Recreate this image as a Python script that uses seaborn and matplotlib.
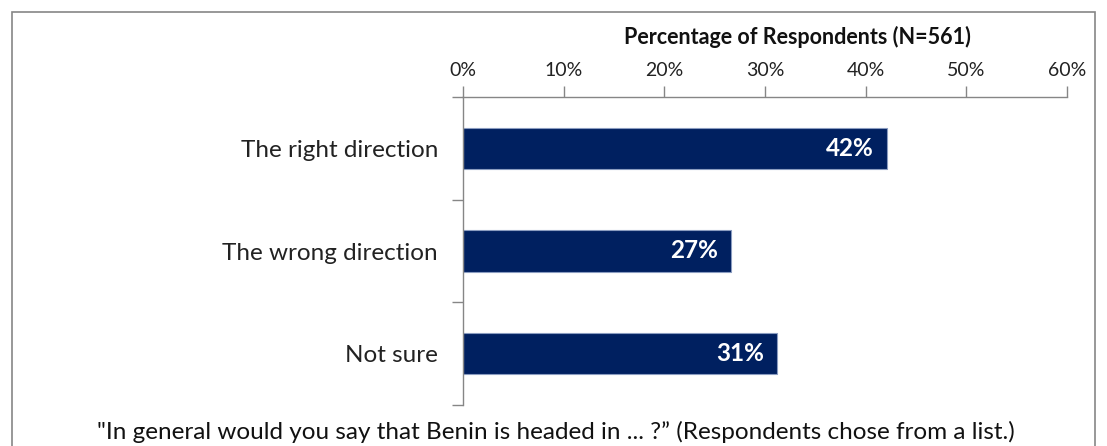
import matplotlib
matplotlib.use("Agg")
import matplotlib.pyplot as plt
import seaborn as sns
import pandas as pd
from matplotlib.patches import Rectangle

categories = ["The right direction", "The wrong direction", "Not sure"]
values = [42.1, 26.6, 31.2]
value_labels = ["42%", "27%", "31%"]
x_ticks = [0, 10, 20, 30, 40, 50, 60]
x_tick_labels = ["0%", "10%", "20%", "30%", "40%", "50%", "60%"]
axis_title = "Percentage of Respondents (N=561)"
caption = "\"In general would you say that Benin is headed in ... ?\u201d (Respondents chose from a list.)"

sns.set_style("white")
plt.rcParams["font.family"] = ["Lato", "DejaVu Sans"]

df = pd.DataFrame({"Answer": categories, "Percent": values})

fig = plt.figure(figsize=(11.07, 4.46), dpi=100)
ax = fig.add_axes([463 / 1107, 1 - 405 / 446, 604 / 1107, 308 / 446])

sns.barplot(data=df, y="Answer", x="Percent", orient="h", color="#002060",
            width=0.4, edgecolor="#8a9cc0", linewidth=0.8, saturation=1, ax=ax)

ax.set_xlim(0, 60)
ax.set_ylim(2.5, -0.5)
ax.xaxis.tick_top()
ax.set_xticks(x_ticks, labels=x_tick_labels)
ax.set_yticks([-0.5, 0.5, 1.5, 2.5], labels=[])
ax.set_yticks(range(len(categories)), labels=categories, minor=True)
ax.tick_params(axis="x", which="major", direction="out", length=8, width=1,
               color="#868686", labelsize=14, labelcolor="#222222", pad=5, top=True, bottom=False)
ax.tick_params(axis="y", which="major", direction="out", length=8, width=1,
               color="#868686", left=True)
ax.tick_params(axis="y", which="minor", length=0, labelsize=17.5, labelcolor="#222222", pad=18)
ax.set_xlabel("")
ax.set_ylabel("")

for side in ["right", "bottom"]:
    ax.spines[side].set_visible(False)
for side in ["top", "left"]:
    ax.spines[side].set_color("#868686")
    ax.spines[side].set_linewidth(1)

for i, (v, lab) in enumerate(zip(values, value_labels)):
    ax.text(v - 1.3, i, lab, ha="right", va="center", color="white",
            fontsize=17.5, fontweight="bold")

fig.text(797 / 1107, 1 - 37 / 446, axis_title, ha="center", va="center",
         fontsize=15.5, fontweight="bold", color="#111111")
fig.text(556 / 1107, 1 - 432 / 446, caption, ha="center", va="center",
         fontsize=17.5, color="#111111")

fig.patches.append(Rectangle((12 / 1107, -0.1), (1095 - 12) / 1107, 1.1 - 12 / 446,
                             transform=fig.transFigure, fill=False,
                             edgecolor="#868686", linewidth=1.2))

fig.savefig("out.png", dpi=100)
